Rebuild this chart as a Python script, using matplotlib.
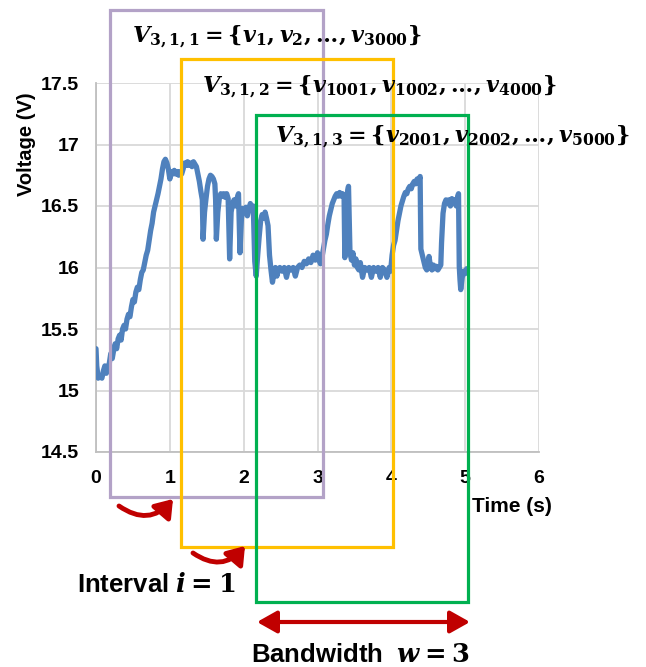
import matplotlib
matplotlib.use("Agg")
import matplotlib.pyplot as plt
import matplotlib.patches as patches
from matplotlib.ticker import FuncFormatter

# voltage trace (time in s, voltage in V)
time_s = [0.00, 0.01, 0.03, 0.06, 0.08, 0.10, 0.12, 0.14, 0.16, 0.18,
          0.20, 0.22, 0.24, 0.26, 0.28, 0.30, 0.32, 0.34, 0.36, 0.38,
          0.40, 0.42, 0.44, 0.46, 0.48, 0.50, 0.52, 0.54, 0.56, 0.58,
          0.60, 0.62, 0.64, 0.66, 0.68, 0.70, 0.72, 0.74, 0.76, 0.78,
          0.80, 0.82, 0.84, 0.86, 0.88, 0.90, 0.92, 0.94, 0.96, 0.98,
          1.00, 1.02, 1.04, 1.06, 1.08, 1.10, 1.12, 1.14, 1.16, 1.18,
          1.20, 1.22, 1.24, 1.26, 1.28, 1.30, 1.32, 1.34, 1.36, 1.38,
          1.40, 1.42, 1.44, 1.45, 1.47, 1.49, 1.51, 1.53, 1.55, 1.57,
          1.59, 1.61, 1.62, 1.63, 1.65, 1.67, 1.69, 1.71, 1.73, 1.75,
          1.77, 1.79, 1.81, 1.83, 1.85, 1.87, 1.89, 1.91, 1.93, 1.95,
          1.97, 1.99, 2.01, 2.03, 2.05, 2.07, 2.09, 2.11, 2.13, 2.15,
          2.17, 2.19, 2.21, 2.23, 2.25, 2.27, 2.29, 2.31, 2.33, 2.35,
          2.37, 2.39, 2.41, 2.43, 2.45, 2.47, 2.49, 2.52, 2.55, 2.58,
          2.61, 2.64, 2.67, 2.70, 2.73, 2.76, 2.79, 2.82, 2.85, 2.88,
          2.91, 2.94, 2.97, 3.00, 3.02, 3.04, 3.06, 3.08, 3.10, 3.12,
          3.14, 3.16, 3.18, 3.20, 3.22, 3.24, 3.26, 3.28, 3.30, 3.32,
          3.34, 3.36, 3.37, 3.39, 3.41, 3.42, 3.44, 3.46, 3.48, 3.50,
          3.52, 3.54, 3.56, 3.58, 3.61, 3.64, 3.67, 3.70, 3.73, 3.76,
          3.79, 3.82, 3.85, 3.88, 3.91, 3.94, 3.97, 3.99, 4.01, 4.03,
          4.05, 4.07, 4.09, 4.11, 4.13, 4.15, 4.17, 4.19, 4.21, 4.23,
          4.25, 4.27, 4.29, 4.31, 4.33, 4.35, 4.37, 4.39, 4.40, 4.42,
          4.44, 4.46, 4.48, 4.50, 4.51, 4.53, 4.55, 4.57, 4.59, 4.61,
          4.63, 4.65, 4.67, 4.68, 4.70, 4.72, 4.74, 4.76, 4.78, 4.80,
          4.82, 4.84, 4.86, 4.88, 4.90, 4.91, 4.92, 4.93, 4.94, 4.96,
          4.98, 5.00, 5.02]
voltage_v = [15.34, 15.20, 15.10, 15.12, 15.10, 15.16, 15.20, 15.14, 15.19, 15.22,
             15.30, 15.26, 15.33, 15.38, 15.34, 15.42, 15.45, 15.41, 15.50, 15.53,
             15.50, 15.58, 15.62, 15.60, 15.68, 15.74, 15.72, 15.80, 15.84, 15.82,
             15.90, 15.96, 15.98, 16.04, 16.10, 16.14, 16.22, 16.30, 16.36, 16.45,
             16.50, 16.55, 16.60, 16.66, 16.72, 16.80, 16.86, 16.88, 16.85, 16.80,
             16.72, 16.78, 16.76, 16.79, 16.76, 16.78, 16.75, 16.78, 16.76, 16.80,
             16.85, 16.83, 16.86, 16.83, 16.85, 16.82, 16.86, 16.84, 16.82, 16.76,
             16.70, 16.62, 16.55, 16.23, 16.45, 16.56, 16.66, 16.72, 16.75, 16.74,
             16.72, 16.68, 16.55, 16.23, 16.45, 16.56, 16.60, 16.58, 16.60, 16.57,
             16.60, 16.56, 16.07, 16.45, 16.52, 16.55, 16.50, 16.56, 16.60, 16.12,
             16.40, 16.48, 16.45, 16.49, 16.42, 16.47, 16.52, 16.48, 16.50, 16.05,
             15.93, 16.10, 16.25, 16.38, 16.43, 16.40, 16.45, 16.40, 16.34, 16.10,
             15.98, 15.88, 15.95, 16.00, 15.93, 15.98, 16.00, 15.97, 16.00, 15.92,
             16.00, 15.98, 16.00, 15.93, 16.00, 16.02, 16.00, 16.05, 16.03, 16.07,
             16.04, 16.10, 16.06, 16.12, 16.06, 16.03, 16.08, 16.15, 16.22, 16.27,
             16.35, 16.42, 16.47, 16.52, 16.55, 16.58, 16.60, 16.58, 16.61, 16.58,
             16.60, 16.58, 16.08, 16.50, 16.63, 16.66, 16.12, 16.06, 16.12, 16.02,
             16.07, 16.00, 15.98, 16.04, 15.92, 16.00, 15.98, 16.00, 15.92, 16.00,
             15.97, 16.00, 15.92, 16.00, 15.98, 15.92, 16.00, 15.97, 16.10, 16.18,
             16.22, 16.30, 16.38, 16.44, 16.50, 16.54, 16.58, 16.61, 16.60, 16.64,
             16.66, 16.64, 16.68, 16.70, 16.68, 16.72, 16.70, 16.74, 16.15, 16.10,
             16.05, 16.00, 15.98, 16.02, 16.09, 16.01, 15.98, 16.02, 15.99, 16.01,
             15.98, 16.00, 16.02, 16.20, 16.44, 16.52, 16.55, 16.52, 16.55, 16.50,
             16.56, 16.52, 16.55, 16.50, 16.58, 16.60, 16.01, 15.90, 15.82, 15.92,
             15.97, 15.95, 15.99]

x_ticks = [0, 1, 2, 3, 4, 5, 6]
y_ticks = [14.5, 15, 15.5, 16, 16.5, 17, 17.5]

window_labels = [r"$\boldsymbol{V_{3,1,1} = \{v_{1}, v_{2}, \ldots, v_{3000}\}}$",
                 r"$\boldsymbol{V_{3,1,2} = \{v_{1001}, v_{1002}, \ldots, v_{4000}\}}$",
                 r"$\boldsymbol{V_{3,1,3} = \{v_{2001}, v_{2002}, \ldots, v_{5000}\}}$"]

W, H = 646, 667

def px(x, y):
    # picture pixel (top-left origin) -> figure fraction
    return (x / W, 1 - y / H)

plt.rcParams['font.family'] = ['Liberation Sans', 'DejaVu Sans']
plt.rcParams['font.weight'] = 'bold'
plt.rcParams['mathtext.fontset'] = 'dejavuserif'

fig = plt.figure(figsize=(W / 100, H / 100), dpi=100)
ax = fig.add_axes([96 / W, 1 - 452 / H, 443 / W, 369 / H])
ax.plot(time_s, voltage_v, color='#4F81BD', lw=3.8, solid_joinstyle='round',
        solid_capstyle='round', zorder=3)
ax.set_xlim(0, 6)
ax.set_ylim(14.5, 17.5)
ax.set_xticks(x_ticks)
ax.set_yticks(y_ticks)
ax.yaxis.set_major_formatter(FuncFormatter(lambda v, p: "{:g}".format(v)))
ax.grid(True, color='#D9D9D9', lw=1.3)
ax.set_axisbelow(True)
for s in ['top', 'right']:
    ax.spines[s].set_visible(False)
for s in ['left', 'bottom']:
    ax.spines[s].set_color('#BFBFBF')
    ax.spines[s].set_linewidth(1.3)
ax.tick_params(axis='x', length=0, pad=13, labelsize=14)
ax.tick_params(axis='y', length=0, pad=12, labelsize=14)
for lab in ax.get_xticklabels() + ax.get_yticklabels():
    lab.set_fontweight('bold')

fig.text(27 / W, 1 - 144 / H, "Voltage (V)", rotation=90, fontsize=14.5,
         fontweight='bold', ha='center', va='center')
fig.text(472 / W, 1 - 507 / H, "Time (s)", fontsize=15, fontweight='bold',
         ha='left', va='center')

# sliding window boxes: (left, top, right, bottom) in picture pixels
boxes = [((110, 10, 323, 497), '#B3A2C7'),
         ((181, 59, 393, 547), '#FFC000'),
         ((256, 115, 468, 602), '#00B050')]
for (x0, y0, x1, y1), col in boxes:
    fig.add_artist(patches.Rectangle(px(x0, y1), (x1 - x0) / W, (y1 - y0) / H,
                                     fill=False, ec=col, lw=2.3,
                                     transform=fig.transFigure, zorder=4))

label_pos = [(132, 42), (202, 92), (275, 142)]
for (x, y), txt in zip(label_pos, window_labels):
    fig.text(x / W, 1 - y / H, txt, fontsize=16, ha='left', va='baseline', zorder=6)

# curved interval arrows
for a, b in [((119, 506), (173, 499)), ((193, 553), (245, 546))]:
    fig.add_artist(patches.FancyArrowPatch(px(*a), px(*b), transform=fig.transFigure,
                                           connectionstyle='arc3,rad=0.45',
                                           arrowstyle='-|>,head_length=0.5,head_width=0.35',
                                           mutation_scale=20, color='#C00000', lw=3.5,
                                           shrinkA=0, shrinkB=0, zorder=5))

fig.add_artist(patches.FancyArrowPatch(px(257, 622), px(470, 622), transform=fig.transFigure,
                                       arrowstyle='<|-|>,head_length=0.8,head_width=0.45',
                                       mutation_scale=15, color='#C00000', lw=3,
                                       shrinkA=0, shrinkB=0, zorder=5))

fig.text(77 / W, 1 - 585 / H, r"Interval $\boldsymbol{i = 1}$", fontsize=18.5,
         fontweight='bold', ha='left', va='center')
fig.text(251 / W, 1 - 655 / H, r"Bandwidth  $\boldsymbol{w = 3}$", fontsize=18.5,
         fontweight='bold', ha='left', va='center')

fig.savefig("out.png", dpi=100)
